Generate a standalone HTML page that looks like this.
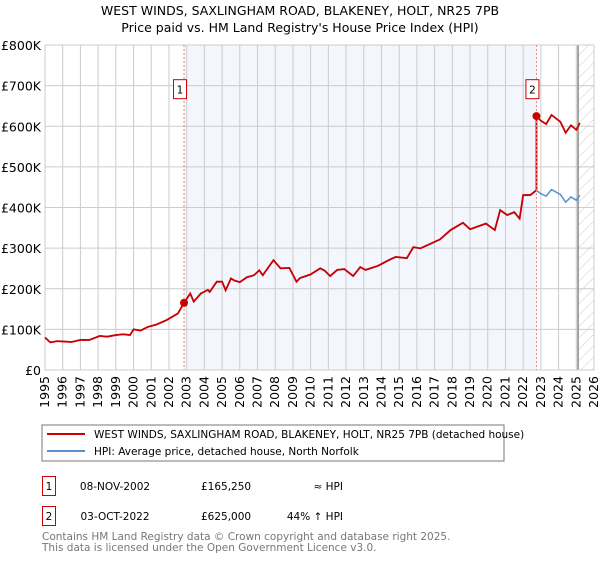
<!DOCTYPE html>
<html><head><meta charset="utf-8"><style>
body{margin:0;background:#fff;font-family:"Liberation Sans","DejaVu Sans",sans-serif;}
svg text{font-family:"DejaVu Sans","Liberation Sans",sans-serif;}
</style></head><body>
<svg id="c" width="600" height="560" xmlns="http://www.w3.org/2000/svg">
<defs><pattern id="hatch" width="8" height="8" patternUnits="userSpaceOnUse" patternTransform="rotate(45)"><line x1="0" y1="0" x2="0" y2="8" stroke="#ccc" stroke-width="1"/></pattern></defs>
<text x="300" y="15" text-anchor="middle" font-size="12.5" fill="#000">WEST WINDS, SAXLINGHAM ROAD, BLAKENEY, HOLT, NR25 7PB</text>
<text x="300" y="32" text-anchor="middle" font-size="12.5" fill="#000">Price paid vs. HM Land Registry's House Price Index (HPI)</text>
<g id="plot"></g>
<rect x="42" y="425" width="462" height="36" fill="#fff" stroke="#777"/>
<line x1="47" y1="434" x2="85" y2="434" stroke="#cc0000" stroke-width="2"/>
<text x="94" y="438" font-size="10.5">WEST WINDS, SAXLINGHAM ROAD, BLAKENEY, HOLT, NR25 7PB (detached house)</text>
<line x1="47" y1="451" x2="85" y2="451" stroke="#5b8fd4" stroke-width="2"/>
<text x="94" y="455" font-size="10.5">HPI: Average price, detached house, North Norfolk</text>
<g font-size="10.5">
<rect x="42.5" y="476.5" width="13" height="19" fill="#fff" stroke="#cc0000"/>
<text x="49" y="490" text-anchor="middle">1</text>
<text x="115" y="490" text-anchor="middle">08-NOV-2002</text>
<text x="201" y="490">£165,250</text>
<text x="343" y="490" text-anchor="end">≈ HPI</text>
<rect x="42.5" y="506.5" width="13" height="19" fill="#fff" stroke="#cc0000"/>
<text x="49" y="520" text-anchor="middle">2</text>
<text x="115" y="520" text-anchor="middle">03-OCT-2022</text>
<text x="201" y="520">£625,000</text>
<text x="343" y="520" text-anchor="end">44% ↑ HPI</text>
</g>
<text x="42" y="540" font-size="10.5" fill="#777">Contains HM Land Registry data © Crown copyright and database right 2025.</text>
<text x="42" y="551" font-size="10.5" fill="#777">This data is licensed under the Open Government Licence v3.0.</text>
</svg>
<script>
const hpiYears=[1995.0,1995.3,1995.7,1996.1,1996.5,1997.0,1997.5,1998.1,1998.5,1999.0,1999.4,1999.8,2000.0,2000.4,2000.8,2001.3,2001.87,2002.5,2002.85,2003.2,2003.4,2003.8,2004.2,2004.3,2004.7,2005.0,2005.2,2005.5,2005.7,2006.0,2006.4,2006.8,2007.1,2007.3,2007.9,2008.3,2008.8,2009.2,2009.4,2010.0,2010.54,2010.8,2011.1,2011.5,2011.9,2012.4,2012.8,2013.1,2013.8,2014.4,2014.8,2015.43,2015.8,2016.2,2017.3,2017.9,2018.6,2019.0,2019.9,2020.4,2020.7,2021.1,2021.5,2021.8,2022.0,2022.4,2022.75,2023.0,2023.3,2023.6,2024.1,2024.4,2024.7,2025.0,2025.2];
const hpiValues=[80,68,71,70,69,74,74,84,82,86,88,86,100,97,106,112,123,139,165,188,168,188,197,192,217,217,196,225,220,216,228,233,245,233,270,250,251,217,226,235,250,244,231,246,248,231,253,246,256,270,278,275,302,299,321,344,362,346,360,344,393,381,388,372,430,430,442,434,428,444,432,413,426,418,430];
const saleYears=[2002.85,2022.75];
const salePrices=[165.25,625];
const saleLabels=["1","2"];
const yTicks=[0,100,200,300,400,500,600,700,800];
const yTickLabels=["£0","£100K","£200K","£300K","£400K","£500K","£600K","£700K","£800K"];
const xTicks=[1995,1996,1997,1998,1999,2000,2001,2002,2003,2004,2005,2006,2007,2008,2009,2010,2011,2012,2013,2014,2015,2016,2017,2018,2019,2020,2021,2022,2023,2024,2025,2026];

const NS="http://www.w3.org/2000/svg";
const L=45,R=594,T=45,B=370;
const X=y=>L+(y-1995)/(2026-1995)*(R-L);
const Y=v=>B-v/800*(B-T);
const g=document.getElementById('plot');
function mk(tag,attrs,parent){const e=document.createElementNS(NS,tag);for(const k in attrs)e.setAttribute(k,attrs[k]);(parent||g).appendChild(e);return e;}

let e;
e=mk('rect',{x:X(saleYears[0]),y:T,width:X(saleYears[1])-X(saleYears[0]),height:B-T,fill:'#f3f6fd'});


e=mk('rect',{x:X(2025.1),y:T,width:R-X(2025.1),height:B-T,fill:'url(#hatch)'});


yTicks.forEach((t,i)=>{
  e=mk('line',{x1:L,x2:R,y1:Y(t),y2:Y(t),stroke:'#ccc','stroke-width':1});
  
  
  e=mk('text',{x:L-4,y:Y(t)+5,'text-anchor':'end','font-size':'12.5'});
  e.textContent=yTickLabels[i];
  
  
});
xTicks.forEach(t=>{
  e=mk('line',{x1:X(t),x2:X(t),y1:T,y2:B,stroke:'#ccc','stroke-width':1});
  
  
  e=mk('text',{x:0,y:0,'text-anchor':'end','font-size':'12.5',transform:`translate(${X(t)+4},${B+6}) rotate(-90)`});
  e.textContent=t;
  
  
});
e=mk('line',{x1:X(2025.1),x2:X(2025.1),y1:T,y2:B,stroke:'#888','stroke-width':1.5});


e=mk('rect',{x:L,y:T,width:R-L,height:B-T,fill:'none',stroke:'#ccc'});



e=mk('polyline',{points:hpiYears.map((y,i)=>X(y)+','+Y(hpiValues[i])).join(' '),fill:'none',stroke:'#5b8fd4','stroke-width':1.5});



function hpiAt(yr){for(let i=1;i<hpiYears.length;i++){if(hpiYears[i]>=yr){const f=(yr-hpiYears[i-1])/(hpiYears[i]-hpiYears[i-1]);return hpiValues[i-1]+f*(hpiValues[i]-hpiValues[i-1]);}}return hpiValues[hpiValues.length-1];}
const r1=salePrices[0]/hpiAt(saleYears[0]), r2=salePrices[1]/hpiAt(saleYears[1]);
const pts=[];
hpiYears.forEach((y,i)=>{
  if(y<saleYears[0]) pts.push([y,hpiValues[i]]);
  else if(y<saleYears[1]) pts.push([y,hpiValues[i]*r1]);
});
pts.push([saleYears[1],hpiAt(saleYears[1])*r1]);
pts.push([saleYears[1],salePrices[1]]);
hpiYears.forEach((y,i)=>{if(y>saleYears[1]) pts.push([y,hpiValues[i]*r2]);});
e=mk('polyline',{points:pts.map(p=>X(p[0])+','+Y(p[1])).join(' '),fill:'none',stroke:'#cc0000','stroke-width':1.8});



saleYears.forEach((y,i)=>{
  e=mk('line',{x1:X(y),x2:X(y),y1:T,y2:B,stroke:'#f08080','stroke-width':1,'stroke-dasharray':'2,2'});
  
  
  e=mk('circle',{cx:X(y),cy:Y(salePrices[i]),r:4,fill:'#cc0000'});
  
  
  e=mk('rect',{x:X(y)-10.5,y:Y(690)-10,width:13,height:19,fill:'#fff',stroke:'#cc0000'});
  
  
  e=mk('text',{x:X(y)-4,y:Y(690)+4,'text-anchor':'middle','font-size':'10.5'});
  e.textContent=saleLabels[i];
  
  
});
</script>
</body></html>
